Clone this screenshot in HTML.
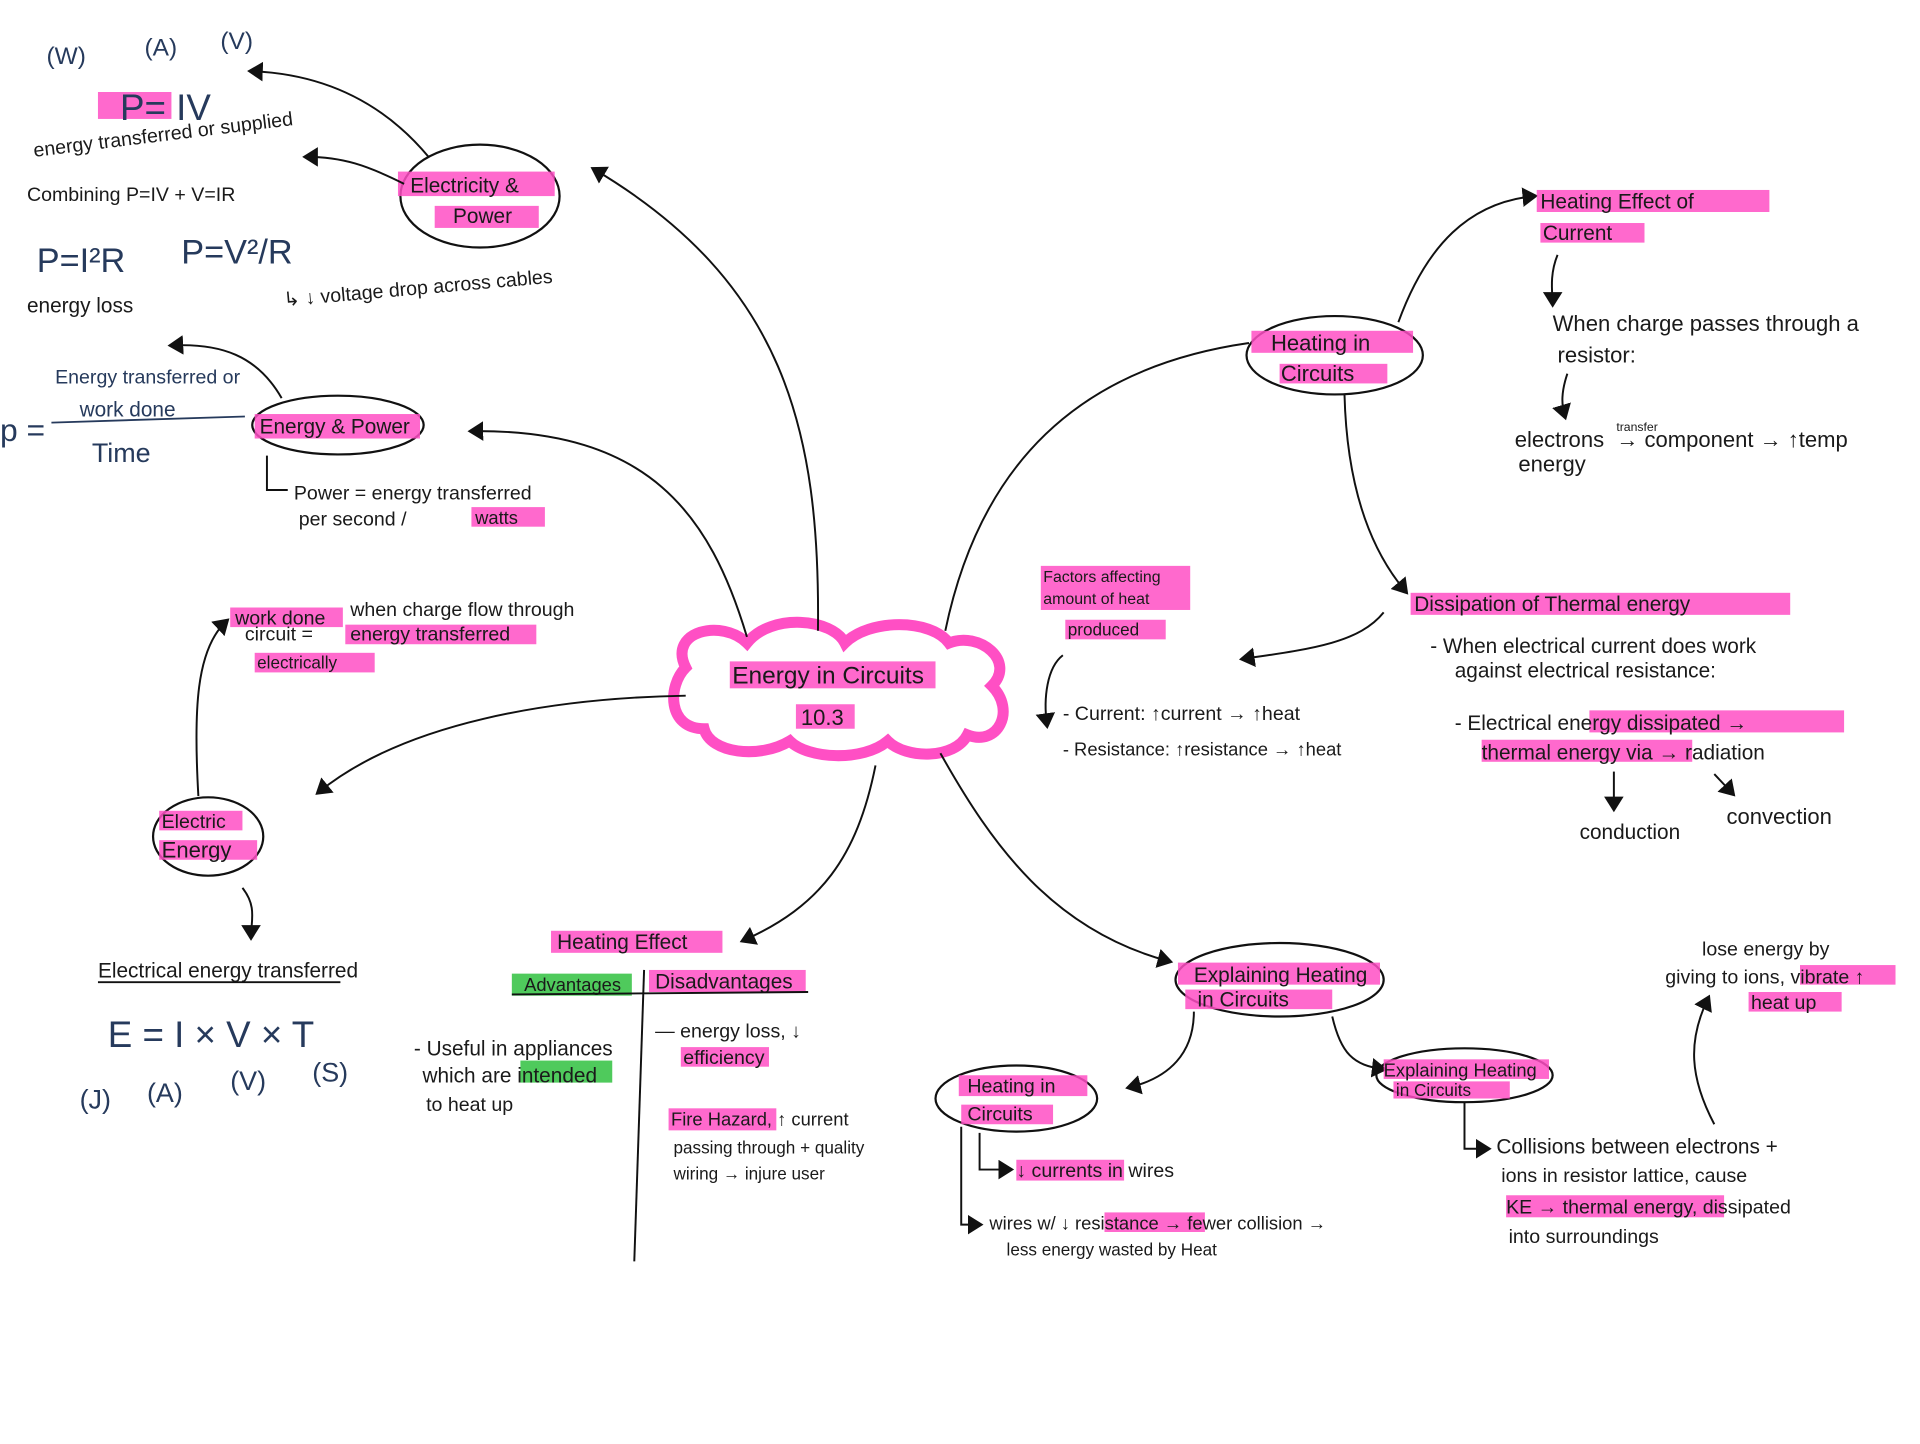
<!DOCTYPE html>
<html><head><meta charset="utf-8"><style>
html,body{margin:0;padding:0;background:#fff;}
svg{display:block;}
text{font-family:"Liberation Sans",sans-serif;fill:#1a1a1a;}
.b{fill:#263a5c;}
.hl{fill:#ff4fc4;opacity:.85}
.gr{fill:#3cc44a;opacity:.9}
.ln{fill:none;stroke:#111;stroke-width:1.6}
</style></head><body>
<svg width="1920" height="1444" viewBox="0 0 1568 1179" xmlns="http://www.w3.org/2000/svg">
<defs><marker id="a" markerWidth="10" markerHeight="10" refX="6" refY="5" orient="auto"><path d="M0,0 L8,5 L0,10 z" fill="#111"/></marker></defs>
<rect width="1568" height="1179" fill="#fff"/>

<path d="M560,545 C545,515 590,505 610,525 C630,500 680,505 690,525 C710,505 760,505 775,525 C800,515 830,540 810,560 C830,580 815,610 790,600 C780,620 740,620 725,605 C705,622 660,620 645,605 C620,620 580,615 575,595 C545,595 545,560 560,545 z" fill="#fff" stroke="#ff4fc4" stroke-width="9"/>
<rect x="596" y="540" width="168" height="22" class="hl" opacity=".5"/>
<text x="598" y="558" font-size="20">Energy in Circuits</text>
<rect x="650" y="575" width="48" height="20" class="hl"/>
<text x="654" y="592" font-size="18">10.3</text>

<path class="ln" d="M610,520 C580,420 530,350 385,352" marker-end="url(#a)"/>
<path class="ln" d="M668,515 C670,350 640,230 485,138" marker-end="url(#a)"/>
<path class="ln" d="M560,568 C450,570 330,590 260,647" marker-end="url(#a)"/>
<path class="ln" d="M715,625 C700,700 670,740 607,768" marker-end="url(#a)"/>
<path class="ln" d="M768,615 C810,690 860,760 955,785" marker-end="url(#a)"/>
<path class="ln" d="M772,515 C800,380 880,300 1020,280" />

<ellipse cx="392" cy="160" rx="65" ry="42" fill="none" stroke="#111" stroke-width="1.8"/>
<rect x="325" y="140" width="128" height="20" class="hl"/><rect x="355" y="168" width="85" height="18" class="hl"/>
<text x="335" y="157" font-size="17">Electricity &amp;</text><text x="370" y="182" font-size="17">Power</text>
<path class="ln" d="M350,128 C310,80 260,60 205,58" marker-end="url(#a)"/>
<path class="ln" d="M330,150 C300,135 280,128 250,128" marker-end="url(#a)"/>
<text x="38" y="52" font-size="20" class="b">(W)</text><text x="118" y="45" font-size="20" class="b">(A)</text><text x="180" y="40" font-size="20" class="b">(V)</text>
<rect x="80" y="75" width="60" height="22" class="hl" opacity=".3"/>
<text x="98" y="98" font-size="30" class="b">P= IV</text>
<text x="28" y="128" font-size="16" transform="rotate(-7 28 128)">energy transferred or supplied</text>
<text x="22" y="164" font-size="16">Combining P=IV + V=IR</text>
<text x="30" y="222" font-size="28" class="b">P=I²R</text><text x="148" y="215" font-size="28" class="b">P=V²/R</text>
<text x="22" y="255" font-size="17">energy loss</text>
<text x="232" y="250" font-size="16" transform="rotate(-5 232 250)">↳ ↓ voltage drop across cables</text>

<ellipse cx="276" cy="347" rx="70" ry="24" fill="none" stroke="#111" stroke-width="1.8"/>
<rect x="208" y="338" width="135" height="20" class="hl"/>
<text x="212" y="354" font-size="17">Energy &amp; Power</text>
<path class="ln" d="M230,325 C210,290 180,280 140,282" marker-end="url(#a)"/>
<text x="45" y="313" font-size="16" class="b">Energy transferred or</text>
<text x="65" y="340" font-size="17" class="b">work done</text>
<line x1="42" y1="345" x2="200" y2="340" stroke="#263a5c" stroke-width="1.5"/>
<text x="75" y="377" font-size="22" class="b">Time</text>
<text x="0" y="360" font-size="26" class="b">p =</text>
<path class="ln" d="M218,372 L218,400 L235,400"/>
<text x="240" y="408" font-size="16">Power = energy transferred</text>
<rect x="385" y="414" width="60" height="16" class="hl"/>
<text x="244" y="429" font-size="16">per second  /</text>
<text x="388" y="428" font-size="15">watts</text>

<ellipse cx="170" cy="683" rx="45" ry="32" fill="none" stroke="#111" stroke-width="1.8"/>
<rect x="130" y="662" width="68" height="16" class="hl"/><rect x="130" y="686" width="80" height="16" class="hl"/>
<text x="132" y="676" font-size="16">Electric</text><text x="132" y="700" font-size="18">Energy</text>
<path class="ln" d="M162,650 C158,580 160,530 185,507" marker-end="url(#a)"/>
<rect x="188" y="496" width="92" height="16" class="hl"/><rect x="282" y="510" width="156" height="16" class="hl"/><rect x="208" y="533" width="98" height="16" class="hl"/>
<text x="192" y="510" font-size="16">work done</text><text x="286" y="503" font-size="16">when charge flow through</text>
<text x="200" y="523" font-size="16">circuit = </text><text x="286" y="523" font-size="16">energy transferred</text>
<text x="210" y="546" font-size="14">electrically</text>
<path class="ln" d="M198,725 C210,740 205,752 205,765" marker-end="url(#a)"/>
<text x="80" y="798" font-size="17">Electrical energy transferred</text>
<line x1="80" y1="802" x2="278" y2="802" stroke="#111" stroke-width="1.5"/>
<text x="88" y="855" font-size="30" class="b">E = I × V × T</text>
<text x="65" y="905" font-size="22" class="b">(J)</text><text x="120" y="900" font-size="22" class="b">(A)</text><text x="188" y="890" font-size="22" class="b">(V)</text><text x="255" y="883" font-size="22" class="b">(S)</text>

<rect x="450" y="760" width="140" height="18" class="hl"/>
<text x="455" y="775" font-size="17">Heating Effect</text>
<rect x="418" y="795" width="98" height="18" class="gr"/><rect x="530" y="792" width="128" height="18" class="hl" opacity=".4"/>
<text x="428" y="809" font-size="15">Advantages</text><text x="535" y="807" font-size="17">Disadvantages</text>
<line x1="418" y1="812" x2="660" y2="810" stroke="#111" stroke-width="1.6"/>
<line x1="526" y1="792" x2="518" y2="1030" stroke="#111" stroke-width="1.6"/>
<text x="338" y="862" font-size="17">- Useful in appliances</text>
<rect x="425" y="866" width="75" height="18" class="gr"/>
<text x="345" y="884" font-size="17">which are intended</text>
<text x="348" y="907" font-size="16">to heat up</text>
<text x="535" y="847" font-size="16">— energy loss, ↓</text>
<rect x="556" y="855" width="72" height="16" class="hl" opacity=".5"/>
<text x="558" y="869" font-size="16">efficiency</text>
<rect x="546" y="905" width="88" height="18" class="hl" opacity=".5"/>
<text x="548" y="919" font-size="15">Fire Hazard, ↑ current</text>
<text x="550" y="942" font-size="14">passing through + quality</text>
<text x="550" y="963" font-size="14">wiring → injure user</text>

<ellipse cx="1090" cy="290" rx="72" ry="32" fill="none" stroke="#111" stroke-width="1.8"/>
<rect x="1022" y="270" width="132" height="18" class="hl" opacity=".6"/><rect x="1045" y="297" width="88" height="16" class="hl" opacity=".6"/>
<text x="1038" y="286" font-size="18">Heating in</text><text x="1046" y="311" font-size="18">Circuits</text>
<path class="ln" d="M1142,263 C1165,200 1200,165 1253,160" marker-end="url(#a)"/>
<path class="ln" d="M1098,322 C1100,400 1120,450 1148,483" marker-end="url(#a)"/>
<rect x="1255" y="155" width="190" height="18" class="hl"/><rect x="1258" y="182" width="85" height="16" class="hl"/>
<text x="1258" y="170" font-size="17">Heating Effect of</text><text x="1260" y="196" font-size="17">Current</text>
<path class="ln" d="M1272,208 C1265,225 1268,240 1268,248" marker-end="url(#a)"/>
<text x="1268" y="270" font-size="18">When charge passes through a</text>
<text x="1272" y="296" font-size="18">resistor:</text>
<path class="ln" d="M1280,305 C1275,320 1275,330 1278,340" marker-end="url(#a)"/>
<text x="1237" y="365" font-size="18">electrons</text><text x="1320" y="352" font-size="10">transfer</text><text x="1240" y="385" font-size="18">energy</text>
<text x="1320" y="365" font-size="18">→  component → ↑temp</text>

<rect x="1152" y="484" width="310" height="18" class="hl"/>
<text x="1155" y="499" font-size="17">Dissipation of Thermal energy</text>
<text x="1168" y="533" font-size="17">- When electrical current does work</text>
<text x="1188" y="553" font-size="17">against electrical resistance:</text>
<rect x="1298" y="580" width="208" height="18" class="hl"/><rect x="1210" y="604" width="172" height="18" class="hl"/>
<text x="1188" y="596" font-size="17">- Electrical energy dissipated →</text>
<text x="1210" y="620" font-size="17">thermal energy via  → radiation</text>
<path class="ln" d="M1318,630 L1318,660" marker-end="url(#a)"/>
<path class="ln" d="M1400,632 L1415,648" marker-end="url(#a)"/>
<text x="1290" y="685" font-size="17">conduction</text><text x="1410" y="673" font-size="18">convection</text>

<rect x="850" y="462" width="122" height="36" class="hl" opacity=".5"/><rect x="870" y="506" width="82" height="16" class="hl"/>
<text x="852" y="475" font-size="13">Factors affecting</text><text x="852" y="493" font-size="13">amount of heat</text><text x="872" y="519" font-size="14">produced</text>
<path class="ln" d="M1130,500 C1110,525 1070,530 1015,538" marker-end="url(#a)"/>
<path class="ln" d="M868,535 C855,545 852,570 855,592" marker-end="url(#a)"/>
<text x="868" y="588" font-size="16">- Current: ↑current → ↑heat</text>
<text x="868" y="617" font-size="15">- Resistance: ↑resistance → ↑heat</text>

<ellipse cx="1045" cy="800" rx="85" ry="30" fill="none" stroke="#111" stroke-width="1.8"/>
<rect x="962" y="786" width="165" height="18" class="hl" opacity=".5"/><rect x="968" y="808" width="120" height="16" class="hl" opacity=".5"/>
<text x="975" y="802" font-size="17">Explaining Heating</text><text x="978" y="822" font-size="17">in Circuits</text>
<path class="ln" d="M975,826 C975,860 955,880 922,888" marker-end="url(#a)"/>
<path class="ln" d="M1088,830 C1095,860 1105,870 1130,873" marker-end="url(#a)"/>
<ellipse cx="830" cy="897" rx="66" ry="27" fill="none" stroke="#111" stroke-width="1.8"/>
<rect x="783" y="878" width="105" height="17" class="hl" opacity=".5"/><rect x="785" y="902" width="75" height="16" class="hl" opacity=".5"/>
<text x="790" y="892" font-size="16">Heating in</text><text x="790" y="915" font-size="16">Circuits</text>
<path class="ln" d="M800,925 L800,955 L825,955" marker-end="url(#a)"/>
<rect x="830" y="947" width="88" height="17" class="hl"/>
<text x="830" y="961" font-size="16">↓ currents  in wires</text>
<path class="ln" d="M785,920 L785,1000 L800,1000" marker-end="url(#a)"/>
<rect x="902" y="990" width="82" height="16" class="hl"/>
<text x="808" y="1004" font-size="15">wires w/ ↓ resistance → fewer collision →</text>
<text x="822" y="1025" font-size="14">less energy wasted by Heat</text>
<ellipse cx="1196" cy="878" rx="72" ry="22" fill="none" stroke="#111" stroke-width="1.8"/>
<rect x="1130" y="865" width="135" height="16" class="hl" opacity=".5"/><rect x="1138" y="883" width="95" height="14" class="hl" opacity=".5"/>
<text x="1130" y="879" font-size="15">Explaining Heating</text><text x="1140" y="895" font-size="14">in Circuits</text>
<path class="ln" d="M1196,900 L1196,938 L1215,938" marker-end="url(#a)"/>
<text x="1222" y="942" font-size="17">Collisions between electrons +</text>
<text x="1226" y="965" font-size="16">ions in resistor lattice, cause</text>
<rect x="1230" y="976" width="178" height="18" class="hl"/>
<text x="1230" y="991" font-size="16">KE → thermal energy, dissipated</text>
<text x="1232" y="1015" font-size="16">into surroundings</text>
<path class="ln" d="M1400,918 C1380,880 1378,850 1395,815" marker-end="url(#a)"/>
<text x="1390" y="780" font-size="16">lose energy by</text>
<rect x="1470" y="788" width="78" height="16" class="hl"/><rect x="1428" y="810" width="76" height="16" class="hl"/>
<text x="1360" y="803" font-size="16">giving to ions, vibrate ↑</text>
<text x="1430" y="824" font-size="16">heat up</text>
</svg>
</body></html>
